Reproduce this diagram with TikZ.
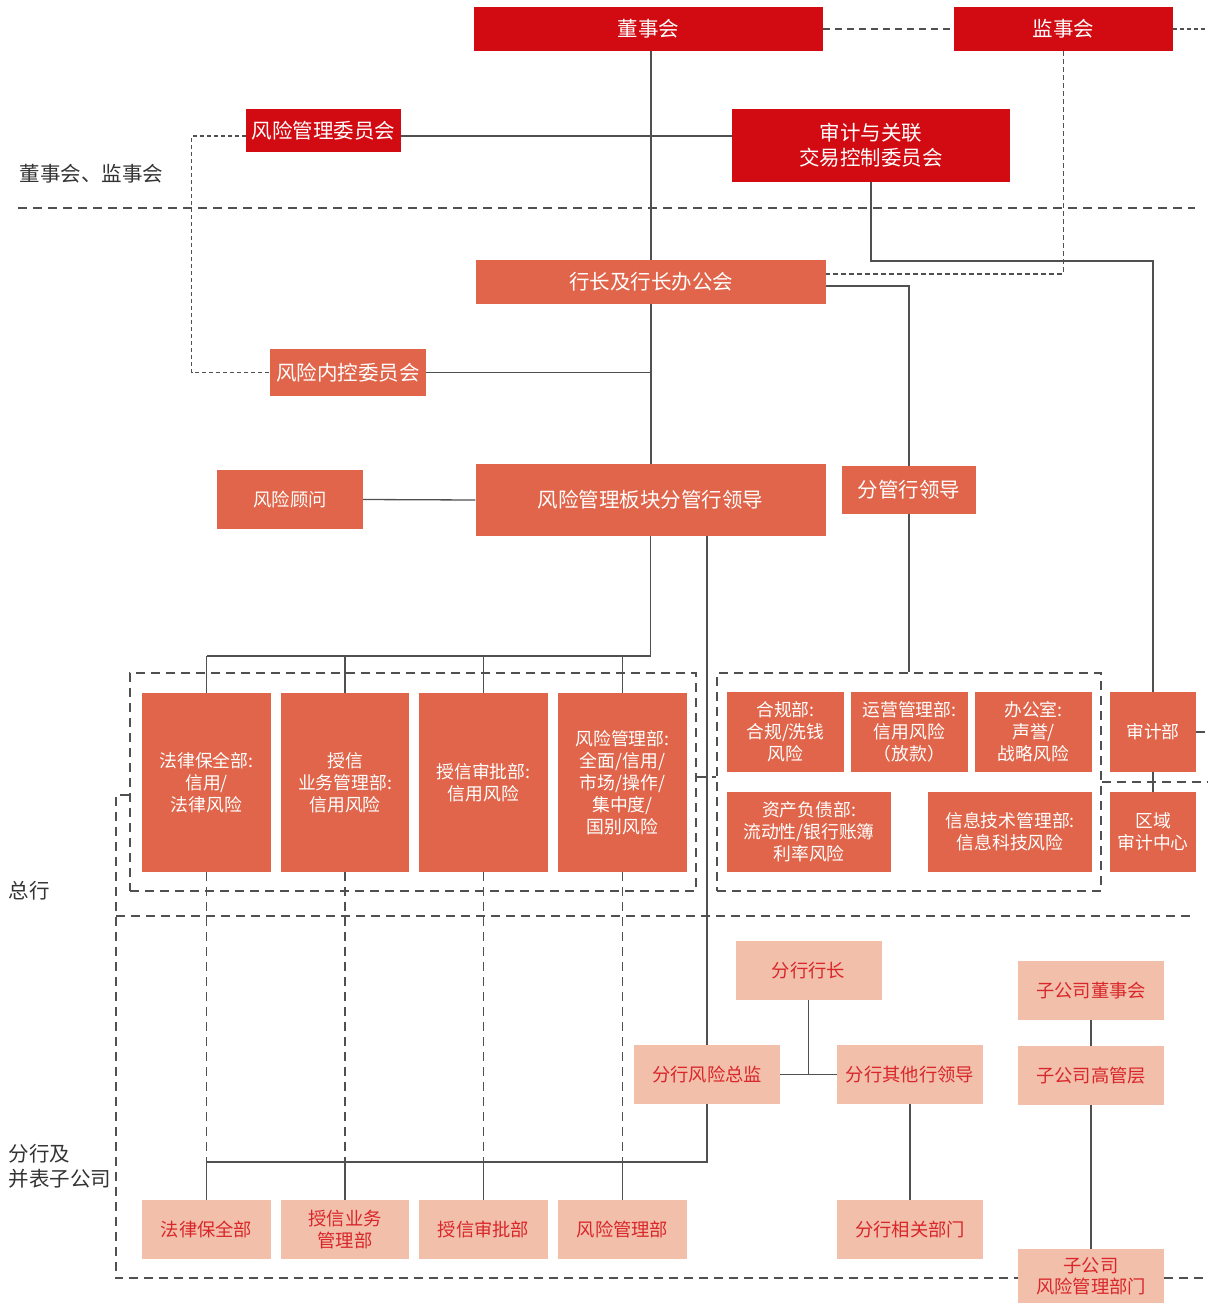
\documentclass[tikz,border=0pt]{standalone}
\usepackage{fontspec}
\setmainfont{Noto Sans CJK SC}
\usetikzlibrary{backgrounds}
\definecolor{boardred}{HTML}{D20A12}
\definecolor{deptorange}{HTML}{E0654A}
\definecolor{branchpink}{HTML}{F2BFAA}
\definecolor{branchtext}{HTML}{D9262B}
\definecolor{linegray}{HTML}{505050}
\definecolor{labelgray}{HTML}{333333}

\begin{document}
\begin{tikzpicture}[x=1pt, y=-1pt,
    redbox/.style={fill=boardred, text=white, inner sep=0pt, align=center, font=\fontsize{20.5}{25}\selectfont},
    orangebox/.style={fill=deptorange, text=white, inner sep=0pt, align=center, font=\fontsize{20.5}{25}\selectfont},
    riskbox/.style={fill=deptorange, text=white, inner sep=0pt, align=center, font=\fontsize{17.8}{22}\selectfont},
    pinkbox/.style={fill=branchpink, text=branchtext, inner sep=0pt, align=center, font=\fontsize{18.3}{21.5}\selectfont, minimum width=146, minimum height=59},
    groupbox/.style={draw=linegray, line width=1.2pt, dash pattern=on 9pt off 6pt},
    link/.style={draw=linegray, line width=1.3pt},
    dashlink/.style={draw=linegray, line width=1.2pt, dash pattern=on 9pt off 6pt},
    dotlink/.style={draw=linegray, line width=1.1pt, dash pattern=on 4pt off 3pt},
    sidelabel/.style={text=labelgray, anchor=west, align=left, font=\fontsize{20.5}{25}\selectfont}]
        \useasboundingbox (0,0) rectangle (1207,1303);

        \coordinate (sepA) at (18,208);
        \coordinate (sepAend) at (1195,208);
        \coordinate (sepB) at (116,916);
        \coordinate (sepBend) at (1195,916);
        \coordinate (jshedge) at (1207,29);
        \coordinate (sjbedge) at (1207,732);
        \coordinate (hqedge) at (1207,782);
        \coordinate (bredge) at (1207,1278);
        \coordinate (sjturn) at (871,261);
        \coordinate (lbus) at (0,656);
        \coordinate (bbus) at (0,1162);

        \node[redbox, minimum width=349, minimum height=44] (dsh) at (648.5,29) {董事会};
        \node[redbox, minimum width=219, minimum height=44] (jsh) at (1063.5,29) {监事会};
        \node[redbox, minimum width=155, minimum height=43] (fxwyh) at (323.5,130.5) {风险管理委员会};
        \node[redbox, minimum width=278, minimum height=73] (sjwyh) at (871,145.5) {审计与关联\\交易控制委员会};

        \node[orangebox, minimum width=350, minimum height=44] (hzbgh) at (651,282) {行长及行长办公会};
        \node[orangebox, minimum width=156, minimum height=47] (fxnk) at (348,372.5) {风险内控委员会};
        \node[orangebox, minimum width=146, minimum height=59, font=\fontsize{18.3}{22}\selectfont] (guwen) at (290,499.5) {风险顾问};
        \node[orangebox, minimum width=350, minimum height=72] (fxld) at (650.5,500) {风险管理板块分管行领导};
        \node[orangebox, minimum width=134, minimum height=48] (fgld) at (909,490) {分管行领导};

        \node[groupbox, minimum width=566, minimum height=218] (lgroup) at (413,782) {};
        \node[groupbox, minimum width=384, minimum height=218] (rgroup) at (909,782) {};

        \node[riskbox, minimum width=129, minimum height=179] (flbq) at (206.5,782.5) {法律保全部:\\信用/\\法律风险};
        \node[riskbox, minimum width=128, minimum height=179] (sxyw) at (345,782.5) {授信\\业务管理部:\\信用风险};
        \node[riskbox, minimum width=129, minimum height=179] (sxsp) at (483.5,782.5) {授信审批部:\\信用风险};
        \node[riskbox, minimum width=129, minimum height=179] (fxglb) at (622.5,782.5) {风险管理部:\\全面/信用/\\市场/操作/\\集中度/\\国别风险};

        \node[riskbox, minimum width=117, minimum height=80] (hgb) at (785.5,732) {合规部:\\合规/洗钱\\风险};
        \node[riskbox, minimum width=117, minimum height=80] (yygl) at (909.5,732) {运营管理部:\\信用风险\\（放款）};
        \node[riskbox, minimum width=117, minimum height=80] (bgs) at (1033.5,732) {办公室:\\声誉/\\战略风险};
        \node[riskbox, minimum width=164, minimum height=80] (zcfz) at (809,832) {资产负债部:\\流动性/银行账簿\\利率风险};
        \node[riskbox, minimum width=164, minimum height=80] (xxjs) at (1010,832) {信息技术管理部:\\信息科技风险};
        \node[riskbox, minimum width=86, minimum height=80] (sjb) at (1153,732) {审计部};
        \node[riskbox, minimum width=86, minimum height=80] (qysj) at (1153,832) {区域\\审计中心};

        \node[pinkbox] (fhhz) at (808.5,970.5) {分行行长};
        \node[pinkbox] (fhzj) at (707,1074.5) {分行风险总监};
        \node[pinkbox] (fhqt) at (910,1074.5) {分行其他行领导};
        \node[pinkbox] (fhbm) at (910,1229.5) {分行相关部门};
        \node[pinkbox] (zdsh) at (1091,990.5) {子公司董事会};
        \node[pinkbox] (zggc) at (1091,1075.5) {子公司高管层};
        \node[pinkbox, minimum height=54] (zfxb) at (1091,1276) {子公司\\风险管理部门};
        \node[pinkbox, minimum width=129] (bflbq) at (206.5,1229.5) {法律保全部};
        \node[pinkbox, minimum width=128] (bsxyw) at (345,1229.5) {授信业务\\管理部};
        \node[pinkbox, minimum width=129] (bsxsp) at (483.5,1229.5) {授信审批部};
        \node[pinkbox, minimum width=129] (bfxglb) at (622.5,1229.5) {风险管理部};

        \node[sidelabel] (lbdsh) at (16,174) {董事会、监事会};
        \node[sidelabel] (lbzh) at (5,891) {总行};
        \node[sidelabel] (lbfh) at (5,1166) {分行及\\并表子公司};

        \begin{scope}[on background layer]
        \draw[dashlink] (sepA) -- (sepAend);
        \draw[dashlink] (sepB) -- (sepBend);
        \draw[link] (hzbgh.north) -- (hzbgh.north |- dsh.south);
        \draw[link] (hzbgh.south) -- (hzbgh.south |- fxld.north);
        \draw[link] ([yshift=-5.5pt]fxwyh.east) -- ([yshift=-5.5pt]fxwyh.east -| sjwyh.west);
        \draw[link] (fxnk.east) -- (fxnk.east -| hzbgh.south);
        \draw[dotlink] ([yshift=-5.5pt]fxwyh.west) -- ++(-54,0) |- (fxnk.west);
        \draw[dashlink, dash pattern=on 7pt off 5pt] (dsh.east) -- (jsh.west);
        \draw[dashlink, dash pattern=on 4pt off 3pt] (jsh.east) -- (jshedge);
        \draw[link] (sjwyh.south) -- (sjturn) -| (sjb.north);
        \draw[dashlink, line width=1.1pt, dash pattern=on 5pt off 3pt] (jsh.south) |- ([yshift=8pt]hzbgh.east);
        \draw[link] ([yshift=-4pt]hzbgh.east) -| (fgld.north);
        \draw[link] (guwen.east) -- (fxld.west);
        \draw[link] (fxld.south) |- (flbq.north |- lbus);
        \foreach \dept in {flbq,sxyw,sxsp,fxglb}
            \draw[link] (\dept.north) -- (\dept.north |- lbus);
        \draw[link] (fhzj.north) -- (fhzj.north |- fxld.south);
        \draw[link] (fgld.south) -- (fgld.south |- rgroup.north);
        \draw[link] (sjb.south) -- (qysj.north);
        \draw[dashlink] (sjb.east) -- (sjbedge);
        \draw[dashlink] (rgroup.east |- hqedge) -- (hqedge);
        \draw[dashlink] ([yshift=5pt]lgroup.east) -- ([yshift=5pt]rgroup.west);
        \draw[dashlink] ([yshift=-13pt]lgroup.west) -- ++(-13.5,0) |- (bredge);
        \foreach \hq/\br in {flbq/bflbq,sxyw/bsxyw,sxsp/bsxsp,fxglb/bfxglb} {
            \draw[dashlink] (\hq.south) -- (\hq.south |- bbus);
            \draw[link] (\br.north) -- (\br.north |- bbus);
        }
        \draw[link] (fhzj.south) |- (bflbq.north |- bbus);
        \draw[link] (fhzj.east) -- (fhqt.west);
        \draw[link] (fhhz.south) -- (fhhz.south |- fhqt.west);
        \draw[link] (fhqt.south) -- (fhbm.north);
        \draw[link] (zdsh.south) -- (zggc.north);
        \draw[link] (zggc.south) -- (zfxb.north);
        \end{scope}
\end{tikzpicture}
\end{document}
